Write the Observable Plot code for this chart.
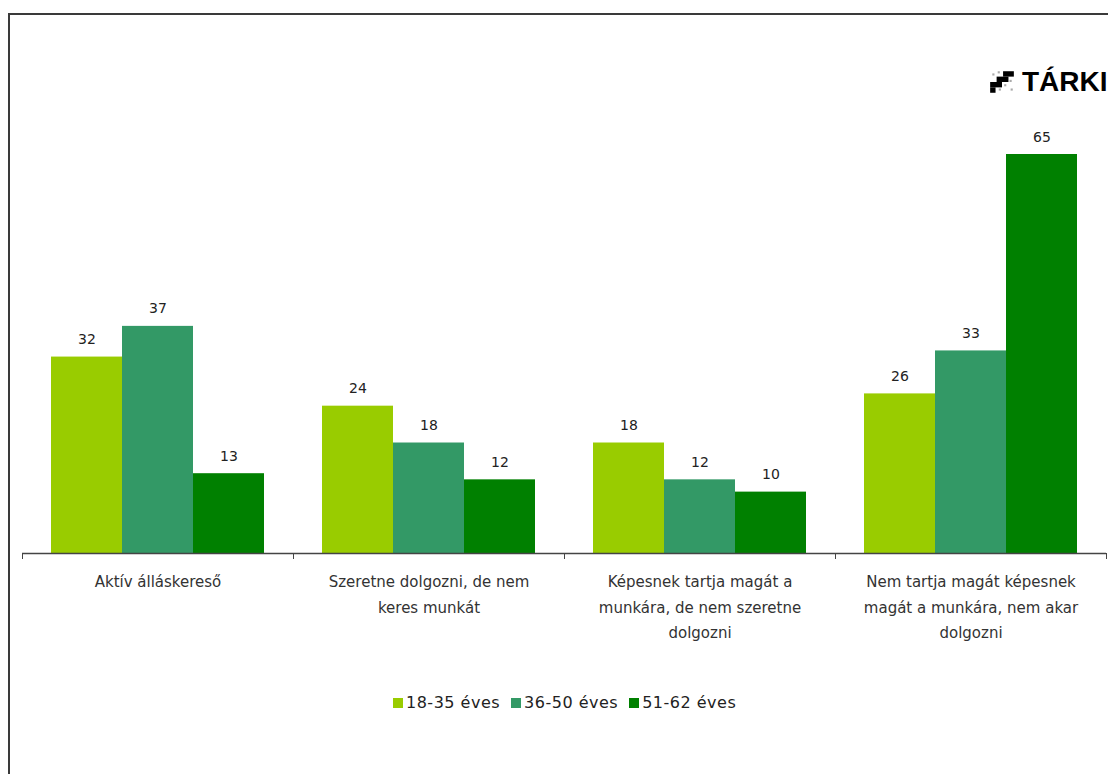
<!DOCTYPE html>
<html>
<head>
<meta charset="utf-8">
<script src="https://cdn.jsdelivr.net/npm/d3@7"></script>
<script src="https://cdn.jsdelivr.net/npm/@observablehq/plot@0.6"></script>
<style>
  html, body { margin: 0; padding: 0; background: #fff; overflow: hidden; }
  body { width: 1108px; height: 774px; position: relative; font-family: "DejaVu Sans", sans-serif; }
  #frame { position: absolute; left: 8px; top: 13px; width: 1200px; height: 900px;
           border-left: 2px solid #3a3a3a; border-top: 2px solid #3a3a3a; }
  #chart { position: absolute; left: 0; top: 0; }
  #logo { position: absolute; left: 988px; top: 66px; display: flex; align-items: center; white-space: nowrap; }
  #logo span { font-family: "Liberation Sans", sans-serif; font-weight: bold; font-size: 28px; color: #000; margin-left: 6px; }
  #legend { position: absolute; left: 393px; top: 693px; display: flex; gap: 11px; font-size: 16px; letter-spacing: 0.5px; color: #222; }
  #legend .item { display: flex; align-items: center; }
  #legend .sw { width: 10px; height: 10px; margin-right: 3px; }
</style>
</head>
<body>
<div id="frame"></div>
<div id="chart"></div>
<div id="logo">
  <svg width="28" height="26" viewBox="0 0 26 24">
    <g fill="#000">
      <rect x="14" y="2" width="10" height="5"/>
      <rect x="8" y="7" width="11" height="5"/>
      <rect x="2" y="12" width="11" height="5"/>
      <rect x="2" y="17" width="5" height="5"/>
    </g>
    <g fill="#aaa">
      <rect x="4" y="4" width="2" height="2"/><rect x="9" y="2" width="2" height="2"/>
      <rect x="10" y="18" width="2" height="2"/><rect x="15" y="14" width="2" height="2"/>
      <rect x="20" y="10" width="2" height="2"/><rect x="21" y="18" width="2" height="2"/>
    </g>
  </svg>
  <span>TÁRKI</span>
</div>
<div id="legend"></div>
<script>
const categories = [
  "Aktív álláskereső",
  "Szeretne dolgozni, de nem keres munkát",
  "Képesnek tartja magát a munkára, de nem szeretne dolgozni",
  "Nem tartja magát képesnek magát a munkára, nem akar dolgozni"
];
const categoryLabels = [
  "Aktív álláskereső",
  "Szeretne dolgozni, de nem\nkeres munkát",
  "Képesnek tartja magát a\nmunkára, de nem szeretne\ndolgozni",
  "Nem tartja magát képesnek\nmagát a munkára, nem akar\ndolgozni"
];
const series = ["18-35 éves", "36-50 éves", "51-62 éves"];
const colors = ["#99cc00", "#339966", "#008000"];
const values1835 = [32, 24, 18, 26];
const values3650 = [37, 18, 12, 33];
const values5162 = [13, 12, 10, 65];

const seriesValues = [values1835, values3650, values5162];
const data = [];
categories.forEach((c, i) => series.forEach((s, j) => data.push({category: c, series: s, value: seriesValues[j][i]})));
const labelData = categories.map((c, i) => ({category: c, label: categoryLabels[i]}));

const chart = Plot.plot({
  width: 1108,
  height: 700,
  marginLeft: 21,
  marginRight: 2,
  marginTop: 154,
  marginBottom: 147,
  style: {fontFamily: "DejaVu Sans, sans-serif", background: "transparent", overflow: "visible"},
  fx: {domain: categories, paddingInner: 0, paddingOuter: 0, axis: null},
  x: {domain: series, paddingInner: 0, paddingOuter: 0.39, axis: null},
  y: {domain: [0, 65], axis: null},
  color: {domain: series, range: colors},
  marks: [
    Plot.barY(data, {fx: "category", x: "series", y: "value", fill: "series"}),
    Plot.text(data, {fx: "category", x: "series", y: "value", text: d => String(d.value),
      lineAnchor: "bottom", dy: -13, fontSize: 14, fill: "#222"}),
    Plot.ruleY([0], {stroke: "#444", strokeWidth: 1.3}),
    Plot.frame({anchor: "left", insetTop: 399, insetBottom: -5, stroke: "#444"}),
    Plot.frame({anchor: "right", insetTop: 399, insetBottom: -5, stroke: "#444"}),
    Plot.text(labelData, {fx: "category", text: "label", frameAnchor: "bottom", lineAnchor: "top",
      dy: 16, lineHeight: 1.68, fontSize: 15, fill: "#333", letterSpacing: "0.9px"})
  ]
});
document.getElementById("chart").appendChild(chart);

const legend = document.getElementById("legend");
series.forEach((s, i) => {
  const item = document.createElement("div");
  item.className = "item";
  const sw = document.createElement("div");
  sw.className = "sw";
  sw.style.background = colors[i];
  const t = document.createElement("span");
  t.textContent = s;
  item.appendChild(sw);
  item.appendChild(t);
  legend.appendChild(item);
});
</script>
</body>
</html>
